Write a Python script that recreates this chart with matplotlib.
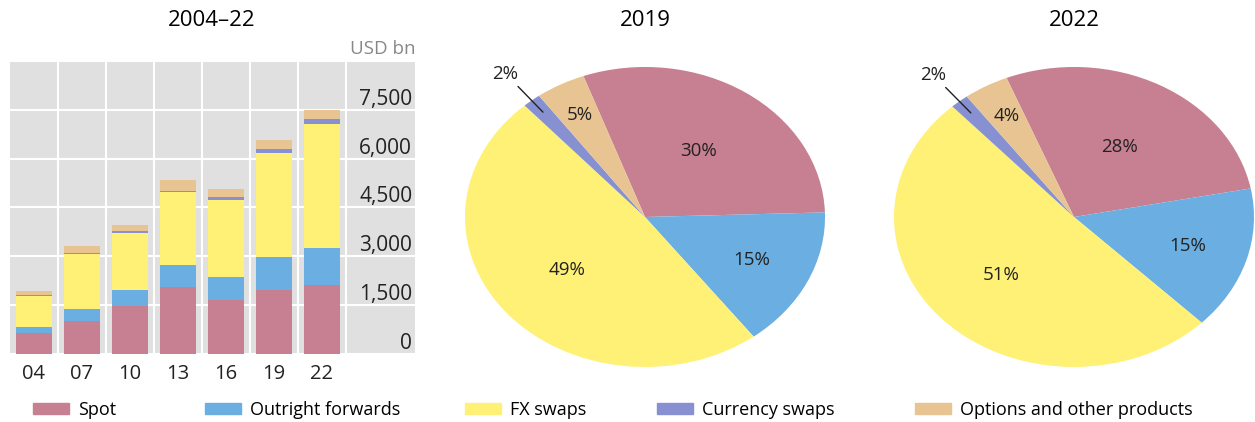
import numpy as np
import matplotlib
matplotlib.use("Agg")
from matplotlib import pyplot as plt
from matplotlib.patches import Patch

plt.rcParams['font.family'] = ['Open Sans', 'DejaVu Sans']

# data (USD bn, daily averages, April of each survey year)
years = ['04', '07', '10', '13', '16', '19', '22']
series = ['Spot', 'Outright forwards', 'FX swaps', 'Currency swaps', 'Options and other products']
spot = [631, 1005, 1489, 2047, 1652, 1979, 2107]
outright = [209, 362, 475, 679, 700, 999, 1163]
fx_swaps = [954, 1714, 1759, 2240, 2378, 3202, 3810]
currency_swaps = [21, 31, 43, 54, 82, 108, 124]
options = [119, 212, 207, 337, 254, 294, 304]
y_ticks = [0, 1500, 3000, 4500, 6000, 7500]

pie_labels_2019 = ['30%', '15%', '49%', '2%', '5%']
pie_labels_2022 = ['28%', '15%', '51%', '2%', '4%']

colors = ['#C68091', '#6AAEE2', '#FFF176', '#8791D2', '#E8C492']

W, H = 1255, 422
fig = plt.figure(figsize=(W / 100, H / 100), dpi=100)


def box(left, top, right, bottom):
    return [left / W, (H - bottom) / H, (right - left) / W, (bottom - top) / H]


# stacked bars
ax = fig.add_axes(box(10, 61, 415, 354))
ax.set_facecolor('#E0E0E0')
x = np.arange(len(years))
bottom = np.zeros(len(years))
for vals, c in zip([spot, outright, fx_swaps, currency_swaps, options], colors):
    ax.bar(x, vals, width=0.75, bottom=bottom, color=c, zorder=3)
    bottom += np.array(vals)
ax.set_xlim(-0.5, 7.95)
ax.set_ylim(0, 9000)
ax.set_xticks(x)
ax.set_xticklabels(years, fontsize=14.5)
ax.set_xticks(np.arange(len(years)) + 0.5, minor=True)
ax.set_yticks(y_ticks + [9000])
ax.yaxis.tick_right()
ax.set_yticklabels([f'{v:,}' for v in y_ticks] + [''], fontsize=15)
for lab in ax.get_yticklabels():
    lab.set_horizontalalignment('right')
    lab.set_verticalalignment('bottom')
ax.tick_params(axis='y', length=0, pad=-2, colors='#222222')
ax.tick_params(axis='x', which='both', length=0, pad=7, colors='#222222')
ax.grid(True, axis='y', color='white', lw=1.5, zorder=1)
ax.grid(True, axis='x', which='minor', color='white', lw=1.5, zorder=1)
for s in ax.spines.values():
    s.set_visible(False)
ax.text(1.0, 1.01, 'USD bn', transform=ax.transAxes, ha='right', va='bottom',
        fontsize=13.5, color='#888888')
fig.text(212 / W, 1 - 20 / H, '2004–22', ha='center', va='center', fontsize=16)


def draw_pie(rect, values, labels, title_x, title, startangle):
    pax = fig.add_axes(rect)
    wedges, _ = pax.pie(values, colors=colors, startangle=startangle, counterclock=False,
                        wedgeprops=dict(linewidth=0))
    pax.set_aspect('auto')
    pax.set_xlim(-1, 1)
    pax.set_ylim(-1, 1)
    radii = [0.53, 0.66, 0.56, None, 0.77]
    for w, lab, r in zip(wedges, labels, radii):
        ang = np.deg2rad((w.theta1 + w.theta2) / 2)
        if r is None:
            pax.annotate(lab, xy=(0.9 * np.cos(ang), 0.9 * np.sin(ang)),
                         xytext=(1.23 * np.cos(ang), 1.23 * np.sin(ang)),
                         ha='center', va='center', fontsize=13.5, color='#222222',
                         arrowprops=dict(arrowstyle='-', color='#222222', lw=1,
                                         shrinkA=1, shrinkB=0),
                         annotation_clip=False)
        else:
            pax.text(r * np.cos(ang), r * np.sin(ang), lab, ha='center', va='center',
                     fontsize=13.5, color='#222222')
    fig.text(title_x / W, 1 - 20 / H, title, ha='center', va='center', fontsize=16)


vals_2019 = [s[5] for s in (spot, outright, fx_swaps, currency_swaps, options)]
vals_2022 = [s[6] for s in (spot, outright, fx_swaps, currency_swaps, options)]
draw_pie(box(465, 67, 825, 367), vals_2019, pie_labels_2019, 645, '2019', 110)
draw_pie(box(894, 67, 1254, 367), vals_2022, pie_labels_2022, 1074, '2022', 112)

# legend, one entry per slot
legend_x = [33, 205, 465, 657, 915]
for name, c, lx in zip(series, colors, legend_x):
    fig.legend(handles=[Patch(color=c, label=name)], loc='center left',
               bbox_to_anchor=(lx / W, 1 - 410 / H), frameon=False,
               fontsize=13, handlelength=2.0, handleheight=0.55, handletextpad=0.5,
               borderpad=0, borderaxespad=0)

fig.savefig('out.png', dpi=100)
